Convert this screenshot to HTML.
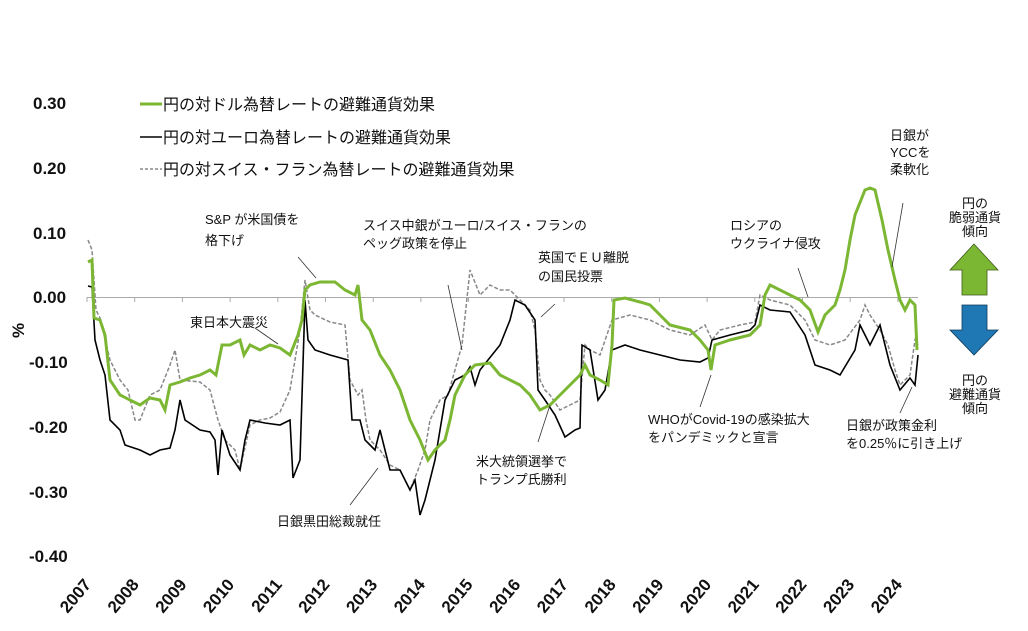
<!DOCTYPE html>
<html><head><meta charset="utf-8"><style>
body{margin:0;background:#fff;}
svg{display:block;font-family:"Liberation Sans","Noto Sans CJK JP",sans-serif;}
.ax{font-size:17px;font-weight:bold;fill:#111}
.an{font-size:13px;fill:#111}
.lg{font-size:16px;fill:#111}
</style></head><body>
<svg width="1028" height="631" viewBox="0 0 1028 631" xmlns="http://www.w3.org/2000/svg">
<g class="ax">
<text x="33" y="109">0.30</text><text x="33" y="174">0.20</text><text x="33" y="239">0.10</text>
<text x="33" y="303">0.00</text><text x="29" y="368">-0.10</text><text x="29" y="433">-0.20</text>
<text x="29" y="498">-0.30</text><text x="29" y="562">-0.40</text>
</g>
<text x="0" y="0" class="ax" transform="translate(24,338) rotate(-90)">%</text>
<line x1="87" y1="297.5" x2="918" y2="297.5" stroke="#aaa" stroke-width="1"/>
<g stroke="#aaa" stroke-width="1">
<line x1="87" y1="297" x2="87" y2="302"/><line x1="134.7" y1="297" x2="134.7" y2="302"/><line x1="182.4" y1="297" x2="182.4" y2="302"/><line x1="230.1" y1="297" x2="230.1" y2="302"/><line x1="277.8" y1="297" x2="277.8" y2="302"/><line x1="325.5" y1="297" x2="325.5" y2="302"/><line x1="373.2" y1="297" x2="373.2" y2="302"/><line x1="420.9" y1="297" x2="420.9" y2="302"/><line x1="468.6" y1="297" x2="468.6" y2="302"/><line x1="516.3" y1="297" x2="516.3" y2="302"/><line x1="564" y1="297" x2="564" y2="302"/><line x1="611.7" y1="297" x2="611.7" y2="302"/><line x1="659.4" y1="297" x2="659.4" y2="302"/><line x1="707.1" y1="297" x2="707.1" y2="302"/><line x1="754.8" y1="297" x2="754.8" y2="302"/><line x1="802.5" y1="297" x2="802.5" y2="302"/><line x1="850.2" y1="297" x2="850.2" y2="302"/><line x1="897.9" y1="297" x2="897.9" y2="302"/>
</g>
<g class="ax" text-anchor="end">
<text transform="translate(92,585) rotate(-50)">2007</text>
<text transform="translate(139.7,585) rotate(-50)">2008</text>
<text transform="translate(187.4,585) rotate(-50)">2009</text>
<text transform="translate(235.1,585) rotate(-50)">2010</text>
<text transform="translate(282.8,585) rotate(-50)">2011</text>
<text transform="translate(330.5,585) rotate(-50)">2012</text>
<text transform="translate(378.2,585) rotate(-50)">2013</text>
<text transform="translate(425.9,585) rotate(-50)">2014</text>
<text transform="translate(473.6,585) rotate(-50)">2015</text>
<text transform="translate(521.3,585) rotate(-50)">2016</text>
<text transform="translate(569,585) rotate(-50)">2017</text>
<text transform="translate(616.7,585) rotate(-50)">2018</text>
<text transform="translate(664.4,585) rotate(-50)">2019</text>
<text transform="translate(712.1,585) rotate(-50)">2020</text>
<text transform="translate(759.8,585) rotate(-50)">2021</text>
<text transform="translate(807.5,585) rotate(-50)">2022</text>
<text transform="translate(855.2,585) rotate(-50)">2023</text>
<text transform="translate(902.9,585) rotate(-50)">2024</text>
</g>
<polyline fill="none" stroke="#888" stroke-width="1.5" stroke-dasharray="4,2" points="88,240 92,250 96,310 100,318 110,360 120,380 128,390 135,420 140,420 150,395 160,390 170,365 175,350 180,380 200,382 210,390 218,420 225,440 235,450 240,470 250,425 260,420 270,418 280,412 290,390 300,330 305,280 310,310 315,315 330,322 345,325 350,380 358,395 362,390 366,420 370,440 380,450 390,465 400,470 410,490 418,470 425,450 430,420 440,400 448,395 455,370 462,345 470,270 480,295 490,285 500,290 510,290 520,300 530,310 535,330 540,380 545,390 550,395 560,410 570,405 580,400 585,345 590,350 600,355 612,320 630,315 650,320 670,330 690,335 705,325 712,340 720,330 740,325 755,322 760,295 770,300 790,305 805,320 815,340 830,345 845,340 860,320 865,305 870,315 880,330 888,345 895,370 900,385 905,380 910,375 915,340 918,345"/>
<polyline fill="none" stroke="#000" stroke-width="1.6" points="88,286 92,287 95,340 100,360 105,375 110,420 120,430 125,445 140,450 150,455 160,450 170,448 175,430 180,400 185,420 200,430 210,432 215,440 218,475 222,430 230,455 240,470 245,440 250,420 265,423 280,425 290,420 293,478 300,460 305,300 308,340 315,350 330,355 348,360 352,420 360,420 365,440 375,450 380,430 385,450 390,470 400,470 410,490 415,480 420,515 425,500 435,460 440,430 445,400 455,380 465,375 470,367 475,385 480,370 500,345 510,320 515,300 525,305 535,320 538,390 545,400 555,415 565,437 575,430 580,428 582,345 590,350 598,400 605,390 612,350 625,345 640,350 660,355 680,360 700,362 708,358 712,340 730,335 750,330 755,325 760,305 770,310 790,312 805,335 815,365 830,370 840,375 855,350 860,325 870,345 880,325 890,365 900,390 910,378 915,385 918,355"/>
<polyline fill="none" stroke="#7cb733" stroke-width="3" points="88,262 92,260 94,318 100,320 105,335 110,380 120,395 130,400 140,405 150,398 160,400 165,410 170,385 180,382 190,378 200,375 210,370 216,375 222,345 230,345 240,340 244,355 250,345 260,350 270,345 280,348 290,355 298,335 302,320 305,290 310,285 320,282 335,282 345,290 355,295 358,285 362,320 370,330 380,355 390,370 400,390 410,420 420,440 428,460 435,450 445,440 450,420 455,395 465,375 475,365 490,363 500,375 510,380 520,385 530,395 540,410 550,405 560,395 570,385 580,375 585,365 590,375 600,380 608,385 612,345 614,300 625,298 640,302 650,305 660,315 670,325 690,330 700,340 708,350 711,370 715,345 730,340 750,335 760,325 765,295 770,285 780,290 790,295 800,300 810,310 818,332 825,315 835,305 840,290 845,270 850,240 855,215 865,190 870,188 875,190 882,220 888,250 895,280 900,300 905,310 910,300 915,305 917,350"/>
<line x1="140" y1="104" x2="162" y2="104" stroke="#7cb733" stroke-width="3"/>
<text x="163" y="110" class="lg">円の対ドル為替レートの避難通貨効果</text>
<line x1="140" y1="137" x2="162" y2="137" stroke="#000" stroke-width="1.6"/>
<text x="163" y="143" class="lg">円の対ユーロ為替レートの避難通貨効果</text>
<line x1="140" y1="169" x2="162" y2="169" stroke="#888" stroke-width="1.5" stroke-dasharray="3,2"/>
<text x="163" y="175" class="lg">円の対スイス・フラン為替レートの避難通貨効果</text>
<g class="an">
<text x="205" y="224">S&amp;P が米国債を</text><text x="205" y="245">格下げ</text>
<text x="363" y="230">スイス中銀がユーロ/スイス・フランの</text><text x="363" y="248">ペッグ政策を停止</text>
<text x="538" y="262">英国でＥＵ離脱</text><text x="538" y="281">の国民投票</text>
<text x="730" y="230">ロシアの</text><text x="730" y="248">ウクライナ侵攻</text>
<text x="890" y="140">日銀が</text><text x="890" y="157">YCCを</text><text x="890" y="174">柔軟化</text>
<text x="975" y="208" text-anchor="middle">円の</text><text x="975" y="222" text-anchor="middle">脆弱通貨</text><text x="975" y="236" text-anchor="middle">傾向</text>
<text x="975" y="385" text-anchor="middle">円の</text><text x="975" y="399" text-anchor="middle">避難通貨</text><text x="975" y="413" text-anchor="middle">傾向</text>
<text x="190" y="327">東日本大震災</text>
<text x="277" y="526">日銀黒田総裁就任</text>
<text x="476" y="466">米大統領選挙で</text><text x="476" y="484">トランプ氏勝利</text>
<text x="648" y="424">WHOがCovid-19の感染拡大</text><text x="648" y="442">をパンデミックと宣言</text>
<text x="846" y="430">日銀が政策金利</text><text x="846" y="448">を0.25％に引き上げ</text>
</g>
<g stroke="#333" stroke-width="0.8" fill="none">
<line x1="298" y1="257" x2="316" y2="278"/><line x1="255" y1="328" x2="278" y2="344"/>
<line x1="350" y1="505" x2="378" y2="468"/><line x1="448" y1="285" x2="462" y2="350"/>
<line x1="555" y1="304" x2="541" y2="317"/><line x1="538" y1="442" x2="550" y2="405"/>
<line x1="798" y1="268" x2="808" y2="297"/><line x1="903" y1="203" x2="892" y2="267"/>
<line x1="700" y1="407" x2="711" y2="375"/><line x1="900" y1="413" x2="912" y2="387"/>
</g>
<polygon points="974,244 998,270 987,270 987,295 962,295 962,270 950,270" fill="#7cb733" stroke="#3d5a1a" stroke-width="0.8"/>
<polygon points="962,305 987,305 987,330 998,330 974,355 950,330 962,330" fill="#1f78b4" stroke="#0d3a5a" stroke-width="0.8"/>
</svg>
</body></html>
